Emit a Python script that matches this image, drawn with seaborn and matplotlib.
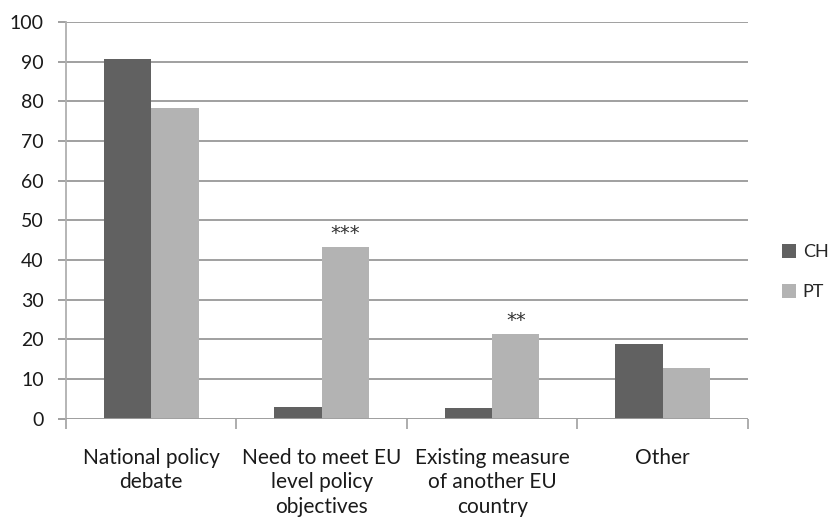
import matplotlib
matplotlib.use("Agg")
import matplotlib.pyplot as plt
import seaborn as sns
import pandas as pd

categories = ["National policy\ndebate",
              "Need to meet EU\nlevel policy\nobjectives",
              "Existing measure\nof another EU\ncountry",
              "Other"]
ch_values = [90.7, 2.8, 2.7, 18.7]
pt_values = [78.3, 43.3, 21.4, 12.7]
series_names = ["CH", "PT"]
significance = ["", "***", "**", ""]
yticks = [0, 10, 20, 30, 40, 50, 60, 70, 80, 90, 100]

df = pd.DataFrame({
    "category": categories * 2,
    "series": ["CH"] * 4 + ["PT"] * 4,
    "value": ch_values + pt_values,
})

sns.set_theme(style="white")
plt.rcParams["font.family"] = ["Lato", "DejaVu Sans"]

fig = plt.figure(figsize=(8.31, 5.19), dpi=100)
ax = fig.add_axes([0.0794, 0.1936, 0.8206, 0.764])

palette = {"CH": "#616161", "PT": "#b3b3b3"}
sns.barplot(data=df, x="category", y="value", hue="series", order=categories,
            hue_order=series_names, palette=palette, width=0.555, gap=0,
            saturation=1, ax=ax, linewidth=0)

ax.set_ylim(0, 100)
ax.set_xlim(-0.5, 3.5)
ax.set_yticks(yticks)
ax.yaxis.grid(True, color="#868686", linewidth=1.1)
ax.set_axisbelow(True)
ax.set_xlabel("")
ax.set_ylabel("")

for s in ["top", "right", "bottom"]:
    ax.spines[s].set_visible(False)
ax.spines["left"].set_color("#b0b0b0")
ax.spines["left"].set_linewidth(1.3)
ax.axhline(0, color="#a0a0a0", linewidth=1.3, zorder=3)

# x: tick marks at category boundaries, labels at centers
ax.set_xticks([-0.5, 0.5, 1.5, 2.5, 3.5], minor=True)
ax.set_xticks(range(len(categories)))
ax.set_xticklabels(categories, fontsize=15, color="#1a1a1a", linespacing=1.3)
ax.tick_params(axis="x", which="major", length=0, pad=21)
ax.tick_params(axis="x", which="minor", length=7, width=1.2, color="#a0a0a0",
               direction="out", bottom=True)
ax.tick_params(axis="y", which="major", length=6, width=1.1, color="#868686",
               direction="out", left=True, pad=10, labelsize=14,
               labelcolor="#1a1a1a")

# significance markers over PT bars
pt_container = ax.containers[1]
for bar, mark in zip(pt_container, significance):
    if mark:
        ax.text(bar.get_x() + bar.get_width() / 2, bar.get_height() + 1.0, mark,
                ha="center", va="bottom", fontsize=14, color="#333333",
                family="DejaVu Sans")

leg = ax.legend(loc="center left", bbox_to_anchor=(782 / 831, 1 - 272 / 519),
                bbox_transform=fig.transFigure, frameon=False, borderpad=0,
                borderaxespad=0, fontsize=13, handlelength=0.8,
                handleheight=0.8, handletextpad=0.35, labelspacing=1.3)

fig.savefig("out.png", dpi=100)
